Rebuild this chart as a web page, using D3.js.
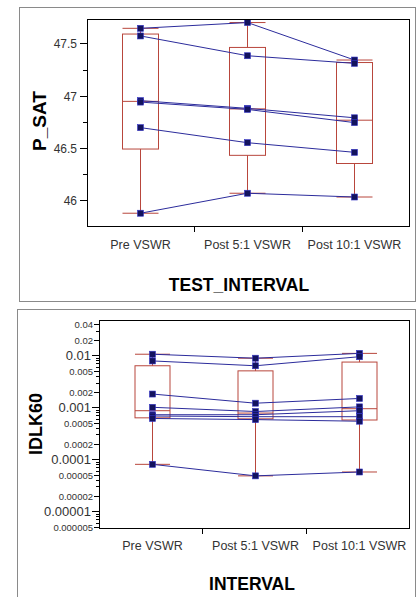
<!DOCTYPE html>
<html>
<head>
<meta charset="utf-8">
<script src="https://cdn.jsdelivr.net/npm/d3@7"></script>
<style>
  body { margin: 0; background: #fff; }
  svg { display: block; font-family: 'Liberation Sans', Arial, sans-serif; }
  .frame { fill: none; stroke: #8a8a8a; }
  .plot-border { fill: none; stroke: #000; }
  .tick-label { fill: #333; }
  .title { fill: #000; font-weight: bold; }
  .box { fill: none; stroke: #b8463c; }
  .link { fill: none; stroke: #2c2c9c; }
  .pt { fill: #13135e; stroke: #3434c8; stroke-width: 0.6; }
</style>
</head>
<body>
<svg id="chart" width="417" height="597"></svg>
<script>
// categories shared by both panels
const categories = ['Pre VSWR', 'Post 5:1 VSWR', 'Post 10:1 VSWR']

// P_SAT, one value per unit (same index = same unit)
const psatPre    = [47.645, 47.572, 46.954, 46.94, 46.696, 45.878]
const psatPost5  = [47.70, 47.383, 46.88, 46.87, 46.552, 46.069]
const psatPost10 = [47.342, 47.31, 46.79, 46.744, 46.46, 46.033]

// IDLK60, one value per unit
const idlkPre    = [0.0105, 0.0078, 0.0018, 0.001, 0.00072, 0.00068, 0.00061, 0.00008]
const idlkPost5  = [0.0088, 0.0063, 0.0012, 0.00083, 0.00072, 0.00066, 0.00058, 0.000048]
const idlkPost10 = [0.0109, 0.0094, 0.00148, 0.00102, 0.00086, 0.00066, 0.00054, 0.000057]

// tick labels
const psatTicks = [46, 46.5, 47, 47.5]
const psatMinor = [46.25, 46.75, 47.25]
const idlkMajor = [0.01, 0.001, 0.0001, 0.00001]
const idlkSmall = [0.04, 0.02, 0.005, 0.002, 0.0005, 0.0002, 0.00005, 0.00002, 0.000005]

const svg = d3.select('#chart')

// quantile at position (n+1)p, as the original tool does it
function quant (sorted, p) {
	let pos = (sorted.length + 1) * p
	let lo = Math.floor(pos)
	if (lo < 1) return sorted[0]
	if (lo >= sorted.length) return sorted[sorted.length - 1]
	return sorted[lo - 1] + (pos - lo) * (sorted[lo] - sorted[lo - 1])
}

function drawPanel (opts) {
	const g = svg.append('g')
	const { left, top, right, bottom } = opts.plot

	g.append('rect').attr('class', 'frame')
		.attr('x', opts.frame[0] + 0.5).attr('y', opts.frame[1] + 0.5)
		.attr('width', opts.frame[2]).attr('height', opts.frame[3])

	const x = d3.scaleBand().domain(categories).range([left, right])
	const y = opts.y.range([bottom, top])
	const groups = opts.groups

	// boxes
	const bw = opts.boxWidth
	groups.forEach((vals, i) => {
		const s = vals.slice().sort((a, b) => a - b)
		const q1 = quant(s, 0.25), q3 = quant(s, 0.75), med = quant(s, 0.5)
		const cx = Math.round(x(categories[i]) + x.bandwidth() / 2 + opts.shift) + 0.5
		const bg = g.append('g').attr('class', 'box')
		bg.append('rect')
			.attr('x', cx - bw / 2).attr('y', y(q3))
			.attr('width', bw).attr('height', y(q1) - y(q3))
		bg.append('line').attr('x1', cx - bw / 2).attr('x2', cx + bw / 2)
			.attr('y1', y(med)).attr('y2', y(med))
		bg.append('line').attr('x1', cx).attr('x2', cx).attr('y1', y(q3)).attr('y2', y(s[s.length - 1]))
		bg.append('line').attr('x1', cx).attr('x2', cx).attr('y1', y(q1)).attr('y2', y(s[0]))
		;[s[0], s[s.length - 1]].forEach(v => {
			bg.append('line').attr('x1', cx - bw / 2).attr('x2', cx + bw / 2)
				.attr('y1', y(v)).attr('y2', y(v))
		})
	})

	// unit lines and points
	const cxOf = (i) => Math.round(x(categories[i]) + x.bandwidth() / 2 + opts.shift) + 0.5
	const units = d3.range(groups[0].length).map(u => groups.map((vals, i) => [cxOf(i), y(vals[u])]))
	g.selectAll('.link').data(units).join('path')
		.attr('class', 'link')
		.attr('d', d3.line())
	units.forEach(pts => {
		g.selectAll(null).data(pts).join('rect')
			.attr('class', 'pt')
			.attr('x', d => d[0] - 3).attr('y', d => d[1] - 3)
			.attr('width', 6).attr('height', 6)
	})

	// plot border
	g.append('rect').attr('class', 'plot-border')
		.attr('x', left + 0.5).attr('y', top + 0.5)
		.attr('width', right - left).attr('height', bottom - top)

	// y axis ticks
	opts.yTicks(g, y, left)

	// x axis: ticks between categories
	categories.slice(1).forEach(c => {
		const xx = Math.round(x(c)) + 0.5
		g.append('line').attr('stroke', '#000')
			.attr('x1', xx).attr('x2', xx).attr('y1', bottom).attr('y2', bottom + 6)
	})
	g.selectAll('.xlab').data(categories).join('text')
		.attr('class', 'tick-label')
		.attr('x', (d, i) => cxOf(i))
		.attr('y', opts.xLabelY)
		.attr('text-anchor', 'middle')
		.attr('font-size', 12.5)
		.text(d => d)

	g.append('text').attr('class', 'title')
		.attr('x', opts.xTitle[0]).attr('y', opts.xTitle[1])
		.attr('text-anchor', 'middle').attr('font-size', 17.5)
		.text(opts.xTitleText)
	g.append('text').attr('class', 'title')
		.attr('transform', `translate(${opts.yTitle[0]},${opts.yTitle[1]}) rotate(-90)`)
		.attr('text-anchor', 'middle').attr('font-size', opts.yTitleSize)
		.text(opts.yTitleText)
}

// top panel: P_SAT
drawPanel({
	frame: [19, 7, 396, 294],
	plot: { left: 87, top: 19, right: 409, bottom: 226 },
	y: d3.scaleLinear().domain([45.756, 47.734]),
	groups: [psatPre, psatPost5, psatPost10],
	boxWidth: 36,
	shift: -1,
	xLabelY: 249,
	xTitle: [239, 291],
	xTitleText: 'TEST_INTERVAL',
	yTitle: [46, 121],
	yTitleSize: 19,
	yTitleText: 'P_SAT',
	yTicks: (g, y, left) => {
		psatTicks.forEach(v => {
			const yy = Math.round(y(v)) + 0.5
			g.append('line').attr('stroke', '#000')
				.attr('x1', left - 7).attr('x2', left).attr('y1', yy).attr('y2', yy)
			g.append('text').attr('class', 'tick-label')
				.attr('x', left - 10).attr('y', yy).attr('dy', '0.35em')
				.attr('text-anchor', 'end').attr('font-size', 12)
				.text(String(v))
		})
		psatMinor.forEach(v => {
			const yy = Math.round(y(v)) + 0.5
			g.append('line').attr('stroke', '#000')
				.attr('x1', left - 4).attr('x2', left).attr('y1', yy).attr('y2', yy)
		})
	}
})

// bottom panel: IDLK60 on a log scale
drawPanel({
	frame: [17, 309, 398, 300],
	plot: { left: 99, top: 320, right: 409, bottom: 528 },
	y: d3.scaleLog().domain([4.77e-6, 0.0478]),
	groups: [idlkPre, idlkPost5, idlkPost10],
	boxWidth: 35,
	shift: 1.5,
	xLabelY: 550,
	xTitle: [252, 590],
	xTitleText: 'INTERVAL',
	yTitle: [42, 424],
	yTitleSize: 18,
	yTitleText: 'IDLK60',
	yTicks: (g, y, left) => {
		y.ticks().forEach(v => {
			const yy = Math.round(y(v)) + 0.5
			g.append('line').attr('stroke', '#000')
				.attr('x1', left - 3).attr('x2', left).attr('y1', yy).attr('y2', yy)
		})
		idlkSmall.forEach(v => {
			const yy = Math.round(y(v)) + 0.5
			g.append('line').attr('stroke', '#000')
				.attr('x1', left - 5).attr('x2', left).attr('y1', yy).attr('y2', yy)
			g.append('text').attr('class', 'tick-label')
				.attr('x', left - 6).attr('y', yy).attr('dy', '0.35em')
				.attr('text-anchor', 'end').attr('font-size', 9.5)
				.text(String(v))
		})
		idlkMajor.forEach(v => {
			const yy = Math.round(y(v)) + 0.5
			g.append('line').attr('stroke', '#000')
				.attr('x1', left - 7).attr('x2', left).attr('y1', yy).attr('y2', yy)
			g.append('text').attr('class', 'tick-label')
				.attr('x', left - 8).attr('y', yy).attr('dy', '0.35em')
				.attr('text-anchor', 'end').attr('font-size', 13)
				.text(String(v))
		})
	}
})
</script>
</body>
</html>
